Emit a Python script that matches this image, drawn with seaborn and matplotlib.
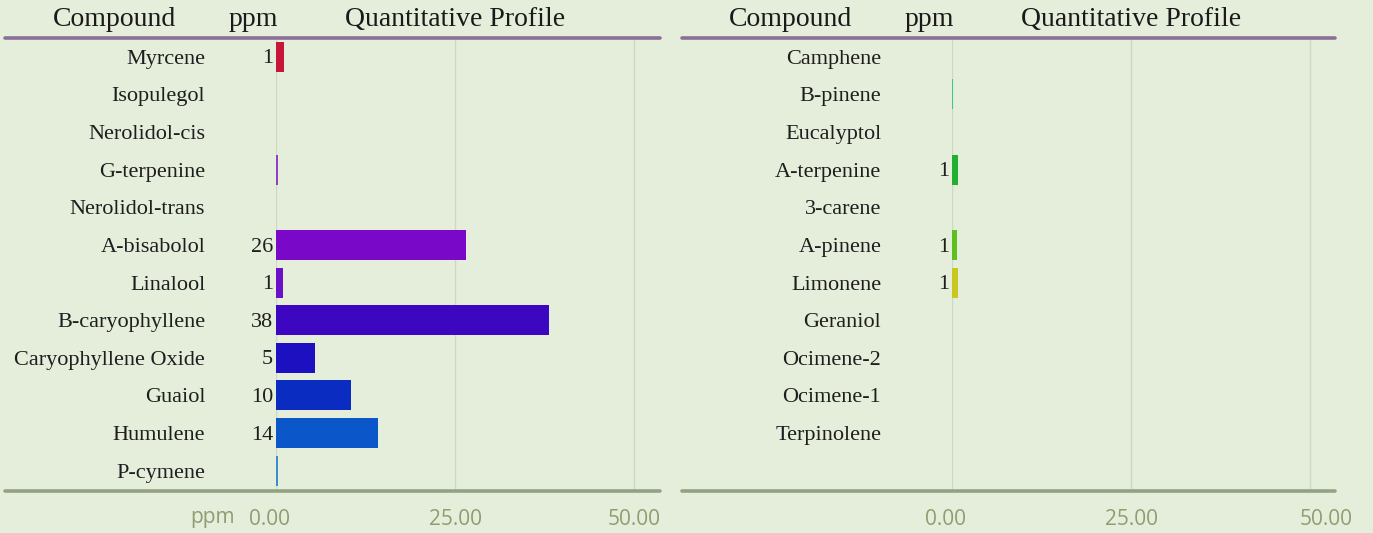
import numpy as np
import pandas as pd
import matplotlib.pyplot as plt
import seaborn as sns
from matplotlib.lines import Line2D
from matplotlib.transforms import ScaledTranslation

# left table
left_compounds = ["Myrcene", "Isopulegol", "Nerolidol-cis", "G-terpenine", "Nerolidol-trans",
                  "A-bisabolol", "Linalool", "B-caryophyllene", "Caryophyllene Oxide",
                  "Guaiol", "Humulene", "P-cymene"]
left_ppm = [1.1, 0.0, 0.0, 0.3, 0.0, 26.5, 0.95, 38.1, 5.4, 10.5, 14.3, 0.3]
left_colors = ["#c8163a", "#9b40c0", "#9b40c0", "#9040c8", "#8030c8", "#7a08c8", "#6a10c8",
               "#3d06c0", "#1c10c0", "#0a2cc0", "#0b56c8", "#3a8ed0"]

# right table
right_compounds = ["Camphene", "B-pinene", "Eucalyptol", "A-terpenine", "3-carene",
                   "A-pinene", "Limonene", "Geraniol", "Ocimene-2", "Ocimene-1", "Terpinolene"]
right_ppm = [0.0, 0.2, 0.0, 0.8, 0.0, 0.7, 0.8, 0.0, 0.0, 0.0, 0.0]
right_colors = ["#30c090", "#40c888", "#30c070", "#22b030", "#40b828", "#5cc020", "#c8c820",
                "#c8c820", "#c8c820", "#c8c820", "#c8c820"]

ticks = [0, 25, 50]
tick_labels = ["0.00", "25.00", "50.00"]

W, H = 1373, 533
SERIF = ["Liberation Serif", "DejaVu Serif"]
SANS = ["Open Sans", "DejaVu Sans"]

sns.set_theme(style="white")
plt.rcParams["font.family"] = SERIF

fig = plt.figure(figsize=(W / 100, H / 100), dpi=100)
fig.patch.set_facecolor("#e5eedb")


def fx(x):
    return x / W


def fy(y):
    return 1 - y / H


def panel(x0, x1, line_l, compounds, ppm, colors, ppm_label, label_shift):
    ax = fig.add_axes([fx(x0), fy(491), fx(x1 - x0), (491 - 38) / H])
    df = pd.DataFrame({"compound": compounds, "ppm": ppm})
    sns.barplot(data=df, x="ppm", y="compound", hue="compound", orient="h",
                palette=dict(zip(compounds, colors)), legend=False, width=0.8,
                saturation=1, linewidth=0, edgecolor="none", ax=ax)
    ax.set_facecolor("none")
    ax.set_xlim(0, (x1 - x0) / 7.16)
    ax.set_ylim(11.54, -0.5)
    ax.set_xlabel("")
    ax.set_ylabel("")
    for s in ax.spines.values():
        s.set_visible(False)
    ax.set_xticks(ticks)
    ax.set_xticklabels(tick_labels, family=SANS, fontsize=15, color="#8e9e70")
    ax.tick_params(axis="x", length=0, pad=13)
    ax.tick_params(axis="y", length=0, pad=51, labelsize=16, labelcolor="#1e1e1e")
    for lab in ax.get_yticklabels():
        lab.set_family(SERIF)
    # nudge tick labels a little, as in the original layout
    for lab, dx in zip(ax.get_xticklabels(), label_shift):
        lab.set_transform(lab.get_transform() + ScaledTranslation(dx / 100, 0, fig.dpi_scale_trans))
    ax.xaxis.grid(True, color="#cfd8c5", lw=1)
    ax.set_axisbelow(True)

    # value labels left of bars
    for i, v in enumerate(ppm):
        if round(v) >= 1:
            ax.annotate(f"{round(v)}", xy=(0, i), xytext=(-2, -1.5), textcoords="offset points",
                        ha="right", va="center", fontsize=16, color="#1e1e1e")

    # header and footer rules
    fig.add_artist(Line2D([fx(line_l), fx(x1)], [fy(38), fy(38)], color="#8c6f98", lw=2.6))
    fig.add_artist(Line2D([fx(line_l), fx(x1)], [fy(491), fy(491)], color="#93a282", lw=2.6))

    # header text
    hdr = dict(fontsize=20, color="#1a1a1a", ha="center", va="center")
    fig.text(fx(x0 - 162), fy(19), "Compound", **hdr)
    fig.text(fx(x0 - 23), fy(19), "ppm", **hdr)
    fig.text(fx(x0 + 179), fy(19), "Quantitative Profile", **hdr)
    if ppm_label:
        fig.text(fx(x0 - 64), fy(518), "ppm", family=SANS, fontsize=15, color="#8e9e70",
                 ha="center", va="center")
    return ax


panel(276, 660, 5, left_compounds, left_ppm, left_colors, True, [-6, 0, 0])
panel(952, 1335, 682, right_compounds, right_ppm, right_colors, False, [-6, 0, 16])

fig.savefig("out.png", dpi=100, facecolor=fig.get_facecolor())
